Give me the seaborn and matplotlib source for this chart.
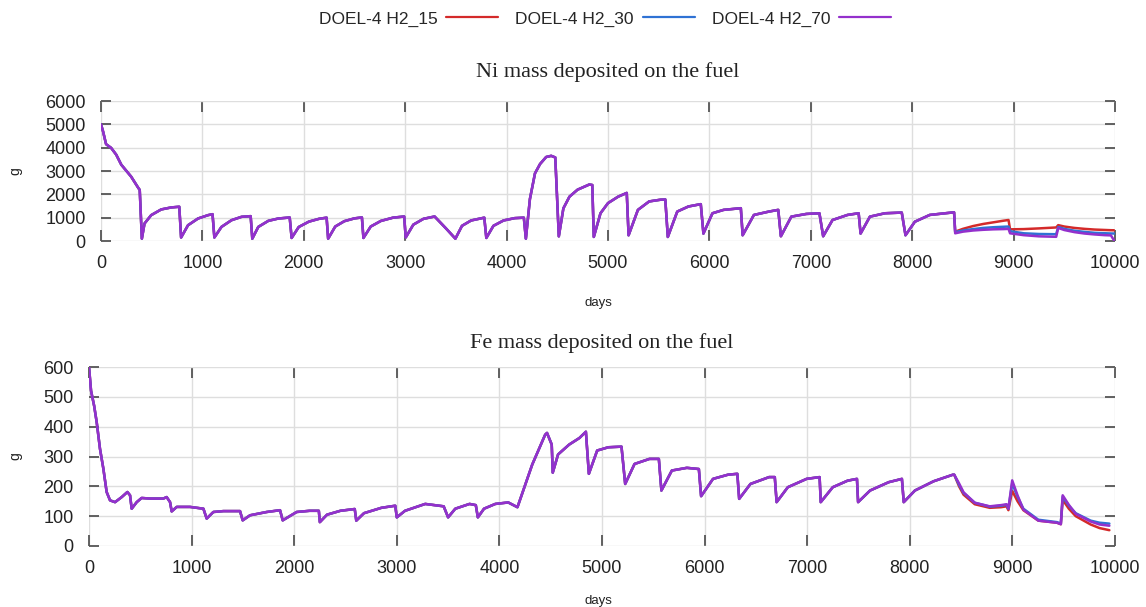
import numpy as np
import pandas as pd
import matplotlib
matplotlib.use("Agg")
import matplotlib.pyplot as plt
from matplotlib.lines import Line2D
import seaborn as sns

# ---------------- data ----------------
series_names = ["DOEL-4 H2_15", "DOEL-4 H2_30", "DOEL-4 H2_70"]
series_colors = ["#d42a2a", "#2f72d4", "#9430cc"]

# Ni mass deposited (g) – part common to all three series
ni_days_common = [0, 20, 50, 100, 150, 200, 297, 370, 382, 403,
                  429, 495, 594, 693, 772, 790,
                  858, 957, 1056, 1100, 1118,
                  1188, 1287, 1386, 1476, 1492,
                  1551, 1650, 1749, 1861, 1880,
                  1950, 2050, 2150, 2225, 2240,
                  2310, 2400, 2500, 2573, 2588,
                  2660, 2760, 2880, 2990, 3005,
                  3080, 3180, 3290, 3400, 3495,
                  3560, 3650, 3780, 3800,
                  3870, 3970, 4080, 4170, 4190,
                  4230, 4280, 4330, 4390, 4440, 4480, 4515,
                  4560, 4620, 4700, 4815, 4845, 4860,
                  4926, 5000, 5100, 5185, 5203,
                  5295, 5406, 5517, 5565, 5590,
                  5683, 5793, 5915, 5941,
                  6030, 6140, 6310, 6328,
                  6439, 6587, 6679, 6705,
                  6808, 6956, 7085, 7122,
                  7214, 7362, 7472, 7491,
                  7583, 7731, 7897, 7934,
                  8026, 8173, 8395, 8413]
ni_common = [5000, 4700, 4150, 3990, 3700, 3270, 2760, 2260, 2190, 100,
             748, 1108, 1353, 1439, 1468, 150,
             676, 964, 1108, 1150, 150,
             604, 892, 1036, 1065, 100,
             604, 863, 964, 1007, 130,
             600, 830, 950, 1000, 100,
             620, 850, 970, 1010, 130,
             620, 860, 1000, 1050, 150,
             700, 950, 1050, 550, 100,
             650, 880, 1000, 130,
             650, 880, 980, 1000, 100,
             1800, 2900, 3300, 3600, 3650, 3580, 200,
             1400, 1900, 2200, 2420, 2400, 175,
             1190, 1624, 1900, 2060, 246,
             1334, 1696, 1769, 1780, 174,
             1261, 1479, 1580, 319,
             1189, 1334, 1406, 246,
             1117, 1261, 1334, 203,
             1044, 1160, 1189, 203,
             899, 1117, 1189, 319,
             1044, 1189, 1218, 246,
             826, 1117, 1218, 1230]

ni_days_tail = [8424, 8500, 8600, 8700, 8800, 8900, 8950, 8965, 9100, 9250,
                9420, 9440, 9500, 9600, 9700, 9800, 9900, 9960, 9990]
ni_tail_15 = [400, 520, 640, 730, 800, 870, 900, 500, 510, 540,
              580, 680, 620, 560, 520, 490, 470, 462, 460]
ni_tail_30 = [380, 450, 510, 560, 590, 610, 620, 420, 330, 300,
              290, 600, 520, 440, 390, 350, 330, 322, 320]
ni_tail_70 = [330, 400, 450, 480, 500, 510, 520, 330, 250, 200,
              180, 560, 470, 380, 320, 280, 250, 240, 30]

# Fe mass deposited (g) – part common to all three series
fe_days_common = [0, 20, 50, 75, 107, 140, 172, 205, 254, 319, 374, 400, 416,
                  465, 513, 595, 725, 757, 790, 806,
                  855, 985, 1115, 1147,
                  1212, 1310, 1472, 1498,
                  1570, 1732, 1862, 1888,
                  2024, 2150, 2240, 2250,
                  2320, 2450, 2590, 2605,
                  2680, 2850, 2985, 3000,
                  3080, 3277, 3457, 3500,
                  3570, 3709, 3770, 3790,
                  3850, 3960, 4086, 4176,
                  4320, 4446, 4464, 4510, 4520,
                  4572, 4680, 4780, 4843, 4872,
                  4953, 5062, 5190, 5226,
                  5317, 5463, 5554, 5579,
                  5681, 5827, 5944, 5966,
                  6082, 6228, 6319, 6337,
                  6447, 6629, 6684, 6702,
                  6811, 6994, 7121, 7132,
                  7249, 7394, 7485, 7496,
                  7613, 7795, 7923, 7941,
                  8050, 8232, 8420]
fe_common = [600, 520, 470, 415, 326, 259, 181, 153, 147, 164, 181, 170, 125,
             147, 161, 159, 159, 164, 147, 116,
             131, 131, 125, 92,
             114, 117, 117, 86,
             103, 114, 120, 86,
             114, 118, 118, 80,
             105, 118, 124, 85,
             110, 128, 135, 96,
             118, 141, 133, 96,
             125, 141, 137, 96,
             125, 141, 146, 130,
             273, 373, 379, 340, 246,
             307, 340, 362, 383, 242,
             320, 331, 333, 208,
             275, 292, 292, 186,
             253, 262, 258, 167,
             225, 239, 242, 158,
             208, 231, 231, 147,
             197, 225, 231, 147,
             197, 219, 225, 147,
             186, 214, 225, 147,
             186, 217, 239]

fe_days_tail = [8433, 8480, 8524, 8633, 8779, 8888, 8943, 8961, 8998, 9050,
                9107, 9253, 9435, 9472, 9490, 9550, 9617, 9763, 9850, 9945]
fe_tail_15 = [239, 200, 172, 140, 128, 130, 133, 120, 185, 150,
              120, 85, 78, 73, 155, 125, 100, 72, 60, 53]
fe_tail_30 = [239, 205, 178, 145, 132, 135, 138, 125, 210, 165,
              125, 88, 80, 75, 165, 135, 110, 85, 78, 75]
fe_tail_70 = [239, 210, 180, 145, 133, 137, 140, 125, 220, 170,
              122, 85, 78, 73, 170, 138, 108, 82, 72, 68]


def long_frame(days_common, common, days_tail, tails):
    rows = []
    for name, tail in zip(series_names, tails):
        for d, v in zip(list(days_common) + list(days_tail), list(common) + list(tail)):
            rows.append((name, d, v))
    return pd.DataFrame(rows, columns=["series", "days", "g"])


ni_df = long_frame(ni_days_common, ni_common, ni_days_tail,
                   [ni_tail_15, ni_tail_30, ni_tail_70])
fe_df = long_frame(fe_days_common, fe_common, fe_days_tail,
                   [fe_tail_15, fe_tail_30, fe_tail_70])

# ---------------- style ----------------
sns.set_theme(style="white")
plt.rcParams["font.family"] = ["Liberation Sans", "DejaVu Sans"]

W, H = 1146, 607
fig = plt.figure(figsize=(W / 100, H / 100), dpi=100)
palette = dict(zip(series_names, series_colors))


def px_axes(left, right, top, bottom):
    return fig.add_axes([left / W, 1 - bottom / H, (right - left) / W, (bottom - top) / H])


ax1 = px_axes(101, 1115, 101, 241)
ax2 = px_axes(89, 1115, 367, 546)

for ax, df, ymax, ystep, title, left_px, top_px, bot_px, tpad, xlab_y in [
        (ax1, ni_df, 6000, 1000, "Ni mass deposited on the fuel", 101, 101, 241, 17, 297),
        (ax2, fe_df, 600, 100, "Fe mass deposited on the fuel", 89, 367, 546, 14, 595)]:
    sns.lineplot(data=df, x="days", y="g", hue="series", hue_order=series_names,
                 palette=palette, estimator=None, sort=False, legend=False,
                 linewidth=1.8, ax=ax)
    ax.set_xlim(0, 10000)
    ax.set_ylim(0, ymax)
    ax.set_xticks(np.arange(0, 10001, 1000))
    ax.set_yticks(np.arange(0, ymax + 1, ystep))
    ax.grid(True, color="#dedede", linewidth=1.0)
    ax.set_axisbelow(True)
    for s in ax.spines.values():
        s.set_visible(False)
    ax.tick_params(axis="x", which="both", direction="in", length=8, width=1.3,
                   color="#555555", top=True, bottom=True, labelsize=13,
                   pad=10, labelcolor="#222222")
    ax.tick_params(axis="y", which="both", direction="in", length=7, width=1.3,
                   color="#555555", left=True, right=True, labelsize=13,
                   pad=11, labelcolor="#222222")
    ax.set_title(title, family=["Liberation Serif", "DejaVu Serif"], fontsize=16,
                 color="#222222", pad=tpad)
    width_px = 1115 - left_px
    height_px = bot_px - top_px
    ax.set_xlabel("days", fontsize=9.5, color="#222222")
    ax.set_ylabel("g", fontsize=10, color="#222222")
    ax.xaxis.set_label_coords((598 - left_px) / width_px, (bot_px - xlab_y) / height_px)
    ax.yaxis.set_label_coords((22 - left_px) / width_px, 0.5)

handles = [Line2D([0], [0], color=c, linewidth=1.6) for c in series_colors]
fig.legend(handles, series_names, loc="center", bbox_to_anchor=(605 / W, 1 - 19 / H),
           ncol=3, frameon=False, markerfirst=False, fontsize=12.5,
           handlelength=3.0, handletextpad=0.5, columnspacing=1.0)

fig.savefig("out.png", dpi=100)
